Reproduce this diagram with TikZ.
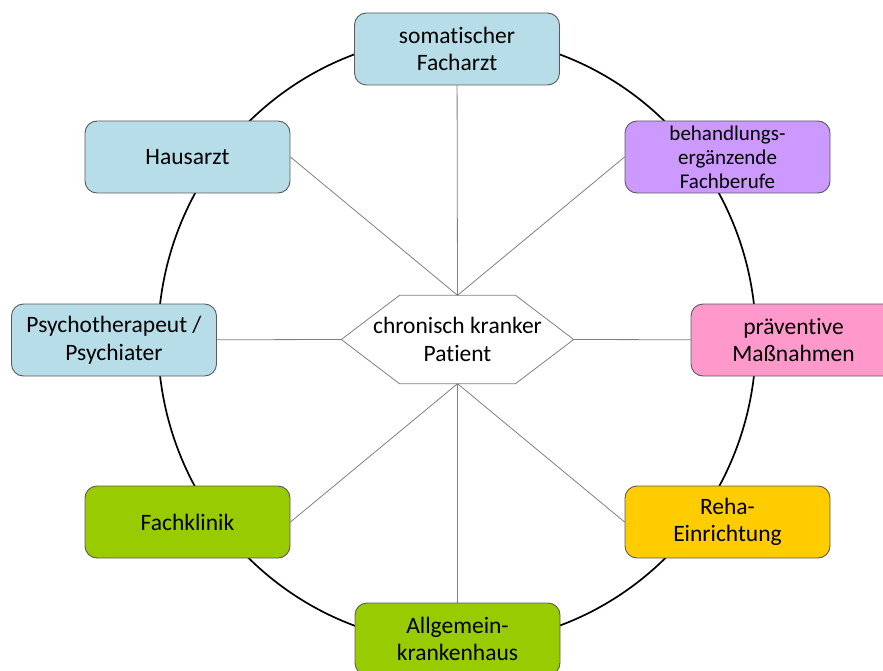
\documentclass[tikz,border=0pt]{standalone}
\usepackage{fontspec}
\setmainfont[Ligatures=NoCommon]{Carlito}
\usepackage{tikz}
\usetikzlibrary{positioning,backgrounds}

\definecolor{paleblue}{RGB}{183,222,232}
\definecolor{lilac}{RGB}{204,153,255}
\definecolor{rosa}{RGB}{255,153,204}
\definecolor{gold}{RGB}{255,204,0}
\definecolor{lime}{RGB}{153,204,0}
\definecolor{rim}{RGB}{90,90,90}

\begin{document}
\begin{tikzpicture}[x=1pt,y=-1pt,font=\fontsize{23.5}{27.5}\selectfont,
 box/.style={draw=rim,line width=0.9pt,rounded corners=12pt,minimum width=205pt,minimum height=72pt,inner sep=0pt,align=center},
 link/.style={draw=gray,line width=0.8pt}]
\useasboundingbox (0,0) rectangle (883,671);
\draw[line width=1.7pt] (457,340) ellipse(299pt and 304pt);
% outer ring
\node[box,fill=paleblue] (facharzt) at (457,49) {somatischer\\Facharzt};
\node[box,fill=paleblue] (hausarzt) at (187.5,157) {Hausarzt};
\node[box,fill=lilac,font=\fontsize{21}{24}\selectfont] (fachberufe) at (727.5,157) {behandlungs-\\ergänzende\\Fachberufe};
\node[box,fill=paleblue] (psycho) at (114,340) {Psychotherapeut /\\Psychiater};
\node[box,fill=rosa] (praevention) at (793.5,340) {präventive\\Maßnahmen};
\node[box,fill=lime] (fachklinik) at (187.5,522) {Fachklinik};
\node[box,fill=gold] (reha) at (727.5,522) {Reha-\\Einrichtung};
\node[box,fill=lime] (krankenhaus) at (457.5,639) {Allgemein-\\krankenhaus};
% centre
\node[minimum width=232pt,minimum height=88pt,inner sep=0pt,align=center] (patient) at (457.5,339.5) {chronisch kranker\\Patient};
\begin{pgfonlayer}{background}
\draw[link,fill=white] (patient.west) -- ([xshift=-58pt]patient.north) -- ([xshift=58pt]patient.north)
 -- (patient.east) -- ([xshift=58pt]patient.south) -- ([xshift=-58pt]patient.south) -- cycle;
\end{pgfonlayer}
% spokes
\draw[link] (facharzt) -- (patient.north);
\draw[link] (patient.south) -- (krankenhaus);
\draw[link] (psycho) -- (patient.west);
\draw[link] (patient.east) -- (praevention);
\foreach \n/\a in {hausarzt/north,fachklinik/south}
 {\draw[link] (\n.east) -- (patient.\a);}
\foreach \n/\a in {fachberufe/north,reha/south}
 {\draw[link] (\n.west) -- (patient.\a);}
\end{tikzpicture}
\end{document}
